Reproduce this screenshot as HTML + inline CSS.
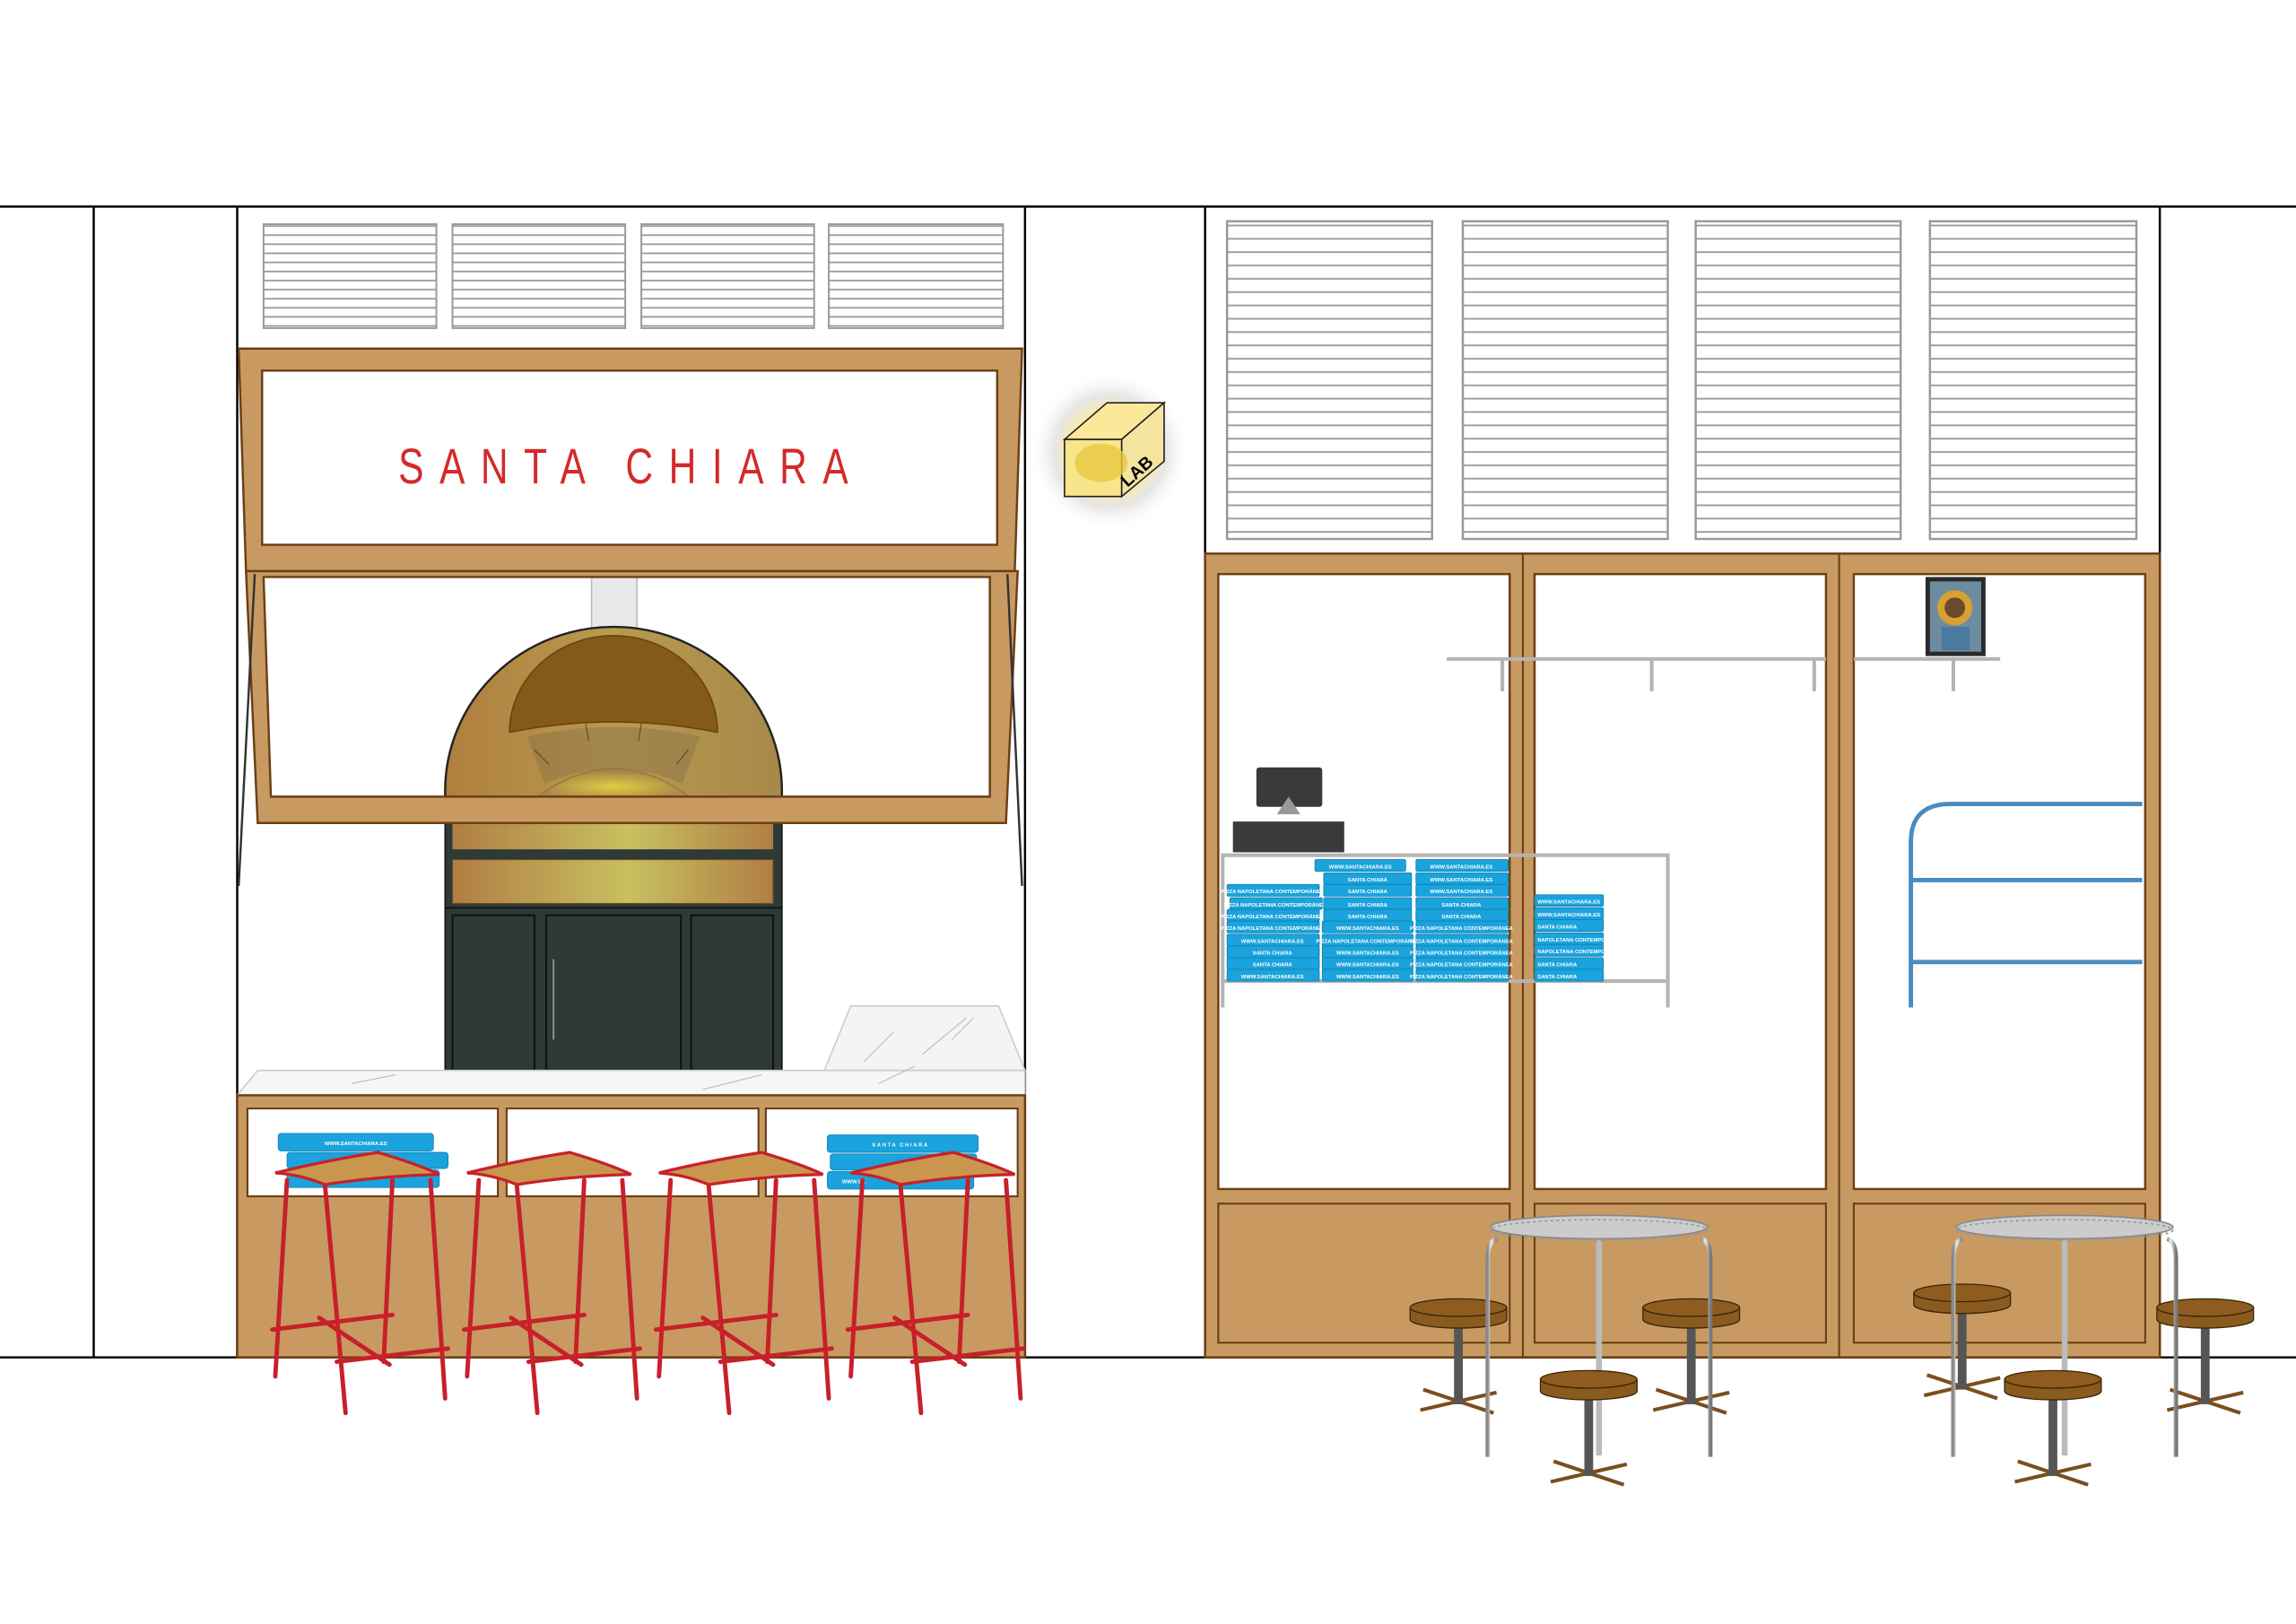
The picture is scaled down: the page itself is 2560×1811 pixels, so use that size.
<!DOCTYPE html>
<html><head><meta charset="utf-8"><style>
html,body{margin:0;padding:0;background:#fff}
svg{display:block}
.bx{fill:#1aa3dc;stroke:#0d7fb0;stroke-width:.5}
.bt{font-family:"Liberation Sans",sans-serif;font-size:3.6px;fill:#fff;font-weight:bold}
</style></head><body>
<svg width="2560" height="1811" viewBox="0 0 1568 1109" xmlns="http://www.w3.org/2000/svg">
<defs>
<pattern id="vent" width="10" height="6.2" patternUnits="userSpaceOnUse">
<rect width="10" height="6.2" fill="#fff"/><line x1="0" y1="5.5" x2="10" y2="5.5" stroke="#9a9a9a" stroke-width="1.1"/>
</pattern>
<pattern id="vent2" width="10" height="9.1" patternUnits="userSpaceOnUse">
<rect width="10" height="9.1" fill="#fff"/><line x1="0" y1="8.3" x2="10" y2="8.3" stroke="#9a9a9a" stroke-width="1.1"/>
</pattern>
<linearGradient id="oven" x1="0" x2="1"><stop offset="0" stop-color="#b07e3e"/><stop offset=".5" stop-color="#b89a4e"/><stop offset="1" stop-color="#a7884a"/></linearGradient>
<linearGradient id="gold" x1="0" x2="1"><stop offset="0" stop-color="#b07e44"/><stop offset=".55" stop-color="#c8c060"/><stop offset="1" stop-color="#b07e44"/></linearGradient>
<radialGradient id="glow"><stop offset="0" stop-color="#f5dc50"/><stop offset=".45" stop-color="#fbeca0"/><stop offset=".7" stop-color="#e6e6e6"/><stop offset="1" stop-color="#fff" stop-opacity="0"/></radialGradient>
<radialGradient id="fire" cx=".5" cy=".6"><stop offset="0" stop-color="#e0cc40"/><stop offset="1" stop-color="#a8864a"/></radialGradient>
<linearGradient id="steel" x1="0" x2="1"><stop offset="0" stop-color="#888"/><stop offset=".4" stop-color="#eee"/><stop offset="1" stop-color="#777"/></linearGradient>
<g id="rstool" stroke="#c8202a" stroke-width="3" fill="none" stroke-linecap="round">
<line x1="196" y1="806" x2="188" y2="940"/><line x1="222" y1="810" x2="236" y2="965"/>
<line x1="268" y1="806" x2="262" y2="930"/><line x1="294" y1="806" x2="304" y2="955"/>
<line x1="186" y1="908" x2="268" y2="898"/><line x1="218" y1="900" x2="266" y2="932"/><line x1="230" y1="930" x2="306" y2="921"/>
<path d="M188,801 Q225,792 258,787 Q285,795 300,802 Q260,803 222,809 Q205,802 188,801Z" fill="#c9964e" stroke="#c8202a" stroke-width="2"/>
</g>
<g id="bstool">
<line x1="-26" y1="70" x2="26" y2="58" stroke="#7a4e1e" stroke-width="2.5"/><line x1="-24" y1="56" x2="24" y2="72" stroke="#7a4e1e" stroke-width="2.5"/>
<rect x="-3" y="10" width="6" height="56" fill="#555"/>
<path d="M-33,0 v8 a33,6 0 0 0 66,0 v-8z" fill="#8a5a1e" stroke="#3a2408" stroke-width=".8"/>
<ellipse cx="0" cy="0" rx="33" ry="6" fill="#8e5c20" stroke="#3a2408" stroke-width=".8"/>
</g>
<g id="table">
<path d="M-70,8 q-6,2 -6,14 v135" stroke="url(#steel)" stroke-width="3" fill="none"/>
<path d="M70,8 q6,2 6,14 v135" stroke="url(#steel)" stroke-width="3" fill="none"/>
<rect x="-2" y="6" width="4" height="150" fill="#bbb"/>
<ellipse cx="0" cy="0" rx="74" ry="8" fill="#ccc" stroke="#888"/>
<ellipse cx="0" cy="2" rx="74" ry="7" fill="none" stroke="#999" stroke-dasharray="2 2"/>
</g>
</defs>

<g stroke="#000" stroke-width="1.5">
<line x1="0" y1="141" x2="1568" y2="141"/><line x1="0" y1="927" x2="1568" y2="927"/>
<line x1="64" y1="141" x2="64" y2="927"/><line x1="162" y1="141" x2="162" y2="927"/>
<line x1="700" y1="141" x2="700" y2="927"/><line x1="823" y1="141" x2="823" y2="927"/>
<line x1="1475" y1="141" x2="1475" y2="927"/>
</g>

<g stroke="#999" stroke-width="1.2" fill="url(#vent)">
<rect x="180" y="153" width="118" height="71"/><rect x="309" y="153" width="118" height="71"/>
<rect x="438" y="153" width="118" height="71"/><rect x="566" y="153" width="119" height="71"/>
</g>

<!-- chimney -->
<rect x="404" y="392" width="31" height="40" fill="#e8e8e8" stroke="#bbb"/>
<!-- oven -->
<path d="M304,560 V540 A115,112 0 0 1 534,540 V560 Z" fill="url(#oven)" stroke="#222" stroke-width="1.5"/>
<path d="M366,545 Q419,505 472,545Z" fill="url(#fire)" stroke="#9a7a40"/>
<path d="M360,503 Q419,490 478,503 L466,535 Q419,515 372,535Z" fill="#7a6448" opacity=".35"/>
<path d="M348,500 A71,66 0 0 1 490,500 Q419,486 348,500Z" fill="#845a18" stroke="#6b4412"/>
<g stroke="#5a4020" stroke-width=".6"><line x1="365" y1="512" x2="375" y2="522"/><line x1="470" y1="512" x2="462" y2="522"/><line x1="400" y1="494" x2="402" y2="506"/><line x1="438" y1="494" x2="436" y2="506"/></g>
<rect x="304" y="545" width="230" height="75" fill="#2d3a38" stroke="#111"/>
<rect x="309" y="562" width="219" height="18" fill="url(#gold)"/>
<rect x="309" y="587" width="219" height="30" fill="url(#gold)" stroke="#6b4a20" stroke-width=".7"/>
<rect x="304" y="620" width="230" height="112" fill="#2d3a38" stroke="#111"/>
<g fill="#2d3a38" stroke="#111" stroke-width="1.3">
<rect x="309" y="625" width="56" height="106"/><rect x="373" y="625" width="92" height="106"/><rect x="472" y="625" width="56" height="106"/>
</g>
<line x1="378" y1="655" x2="378" y2="710" stroke="#888" stroke-width="1.3"/>

<!-- sign frame -->
<polygon points="163,238 698,238 693,390 168,390" fill="#c89a62" stroke="#6b3f16" stroke-width="1.5"/>
<rect x="179" y="253" width="502" height="119" fill="#fff" stroke="#6b3f16" stroke-width="1.5"/>
<text x="272" y="330" textLength="318" lengthAdjust="spacingAndGlyphs" font-family="'Liberation Sans',sans-serif" font-size="34" fill="#d42a2a" letter-spacing="14">SANTA CHIARA</text>
<path d="M168,390 H695 L687,562 H176 Z M180,394 L676,394 L676,544 L185,544 Z" fill="#c89a62" fill-rule="evenodd" stroke="#6b3f16" stroke-width="1.5"/>
<g stroke="#333" stroke-width="1.5">
<line x1="174" y1="392" x2="163" y2="605"/><line x1="688" y1="392" x2="698" y2="605"/>
</g>

<!-- lamp -->
<circle cx="758" cy="308" r="55" fill="url(#glow)"/>
<polygon points="727,300 756,275 795,275 766,300" fill="#fbe89a" stroke="#222"/>
<polygon points="766,300 795,275 795,315 766,339" fill="#f4e4a0" stroke="#222"/>
<rect x="727" y="300" width="39" height="39" fill="#f8e48a" stroke="#222"/>
<ellipse cx="752" cy="316" rx="18" ry="13" fill="#e8c840" opacity=".8"/>
<text x="770" y="333" font-family="'Liberation Sans',sans-serif" font-weight="bold" font-size="12" transform="rotate(-42 770 333)">LAB</text>

<!-- counter -->
<polygon points="563,731 581,687 682,687 700,731" fill="#f4f4f4" stroke="#ccc"/>
<polygon points="162,748 176,731 700,731 700,748" fill="#f6f6f6" stroke="#ccc"/>
<g stroke="#bbb" stroke-width=".7" fill="none">
<path d="M240,740 l30,-6 M480,744 l40,-10 M600,740 l25,-12 M630,720 l30,-25 M650,710 l15,-15 M590,725 l20,-20"/>
</g>
<rect x="162" y="748" width="538" height="179" fill="#c89a62" stroke="#6b3f16" stroke-width="1.5"/>
<g fill="#fff" stroke="#6b3f16" stroke-width="1.3">
<rect x="169" y="757" width="171" height="60"/><rect x="346" y="757" width="172" height="60"/><rect x="523" y="757" width="172" height="60"/>
</g>
<rect class="bx" x="190" y="774" width="106" height="12" rx="2"/><text class="bt" x="243" y="782" text-anchor="middle">WWW.SANTACHIARA.ES</text>
<rect class="bx" x="196" y="787" width="110" height="11" rx="2"/>
<rect class="bx" x="196" y="799" width="104" height="12" rx="2"/>
<rect class="bx" x="565" y="775" width="103" height="12" rx="2"/><text class="bt" x="615" y="783" text-anchor="middle" letter-spacing="1">SANTA CHIARA</text>
<rect class="bx" x="567" y="788" width="100" height="11" rx="2"/>
<rect class="bx" x="565" y="800" width="100" height="12" rx="2"/><text class="bt" x="575" y="808">WWW.SA</text>

<use href="#rstool"/>
<use href="#rstool" transform="translate(131,0)"/>
<use href="#rstool" transform="translate(262,0)"/>
<use href="#rstool" transform="translate(393,0)"/>

<g stroke="#999" stroke-width="1.5" fill="url(#vent2)">
<rect x="838" y="151" width="140" height="217"/><rect x="999" y="151" width="140" height="217"/>
<rect x="1158" y="151" width="140" height="217"/><rect x="1318" y="151" width="141" height="217"/>
</g>

<rect x="823" y="378" width="652" height="549" fill="#c89a62" stroke="#6b3f16" stroke-width="1.5"/>
<g stroke="#6b3f16" stroke-width="1.3">
<line x1="1040" y1="378" x2="1040" y2="927"/><line x1="1256" y1="378" x2="1256" y2="927"/>
</g>
<g fill="#fff" stroke="#6b3f16" stroke-width="1.5">
<rect x="832" y="392" width="199" height="420"/><rect x="1048" y="392" width="199" height="420"/><rect x="1266" y="392" width="199" height="420"/>
</g>
<g fill="none" stroke="#6b3f16" stroke-width="1.3">
<rect x="832" y="822" width="199" height="95"/><rect x="1048" y="822" width="199" height="95"/><rect x="1266" y="822" width="199" height="95"/>
</g>
<g stroke="#b4b4b4" stroke-width="2.5" fill="none">
<line x1="988" y1="450" x2="1247" y2="450"/><line x1="1266" y1="450" x2="1366" y2="450"/>
<line x1="1026" y1="450" x2="1026" y2="472"/><line x1="1128" y1="450" x2="1128" y2="472"/>
<line x1="1239" y1="450" x2="1239" y2="472"/><line x1="1334" y1="450" x2="1334" y2="472"/>
<polyline points="835,688 835,584 1139,584 1139,688"/><line x1="835" y1="670" x2="1139" y2="670"/>
</g>
<rect x="1315" y="394" width="41" height="54" fill="#2a2a2a"/>
<rect x="1318" y="397" width="35" height="48" fill="#6e8ca0"/>
<circle cx="1335" cy="415" r="12" fill="#d8a030"/>
<circle cx="1335" cy="415" r="7" fill="#6a4a2a"/>
<rect x="1326" y="428" width="19" height="16" fill="#4a7aa0"/>
<rect x="858" y="524" width="45" height="27" rx="2" fill="#3a3a3a"/>
<polygon points="880,544 872,556 888,556" fill="#999"/>
<rect x="842" y="561" width="76" height="21" fill="#3a3a3a"/>
<g>
<rect class="bx" x="898" y="587" width="62" height="8" rx="1"/><text class="bt" x="929" y="593" text-anchor="middle">WWW.SANTACHIARA.ES</text>
<rect class="bx" x="967" y="587" width="63" height="8" rx="1"/><text class="bt" x="998" y="593" text-anchor="middle">WWW.SANTACHIARA.ES</text>
<rect class="bx" x="904" y="596" width="60" height="8" rx="1"/><text class="bt" x="934" y="602" text-anchor="middle">SANTA CHIARA</text>
<rect class="bx" x="967" y="596" width="63" height="8" rx="1"/><text class="bt" x="998" y="602" text-anchor="middle">WWW.SANTACHIARA.ES</text>
<rect class="bx" x="838" y="604" width="63" height="8" rx="1"/><text class="bt" x="869" y="610" text-anchor="middle">PIZZA NAPOLETANA CONTEMPORÁNEA</text>
<rect class="bx" x="904" y="604" width="60" height="8" rx="1"/><text class="bt" x="934" y="610" text-anchor="middle">SANTA CHIARA</text>
<rect class="bx" x="967" y="604" width="63" height="8" rx="1"/><text class="bt" x="998" y="610" text-anchor="middle">WWW.SANTACHIARA.ES</text>
<rect class="bx" x="840" y="613" width="63" height="8" rx="1"/><text class="bt" x="871" y="619" text-anchor="middle">PIZZA NAPOLETANA CONTEMPORÁNEA</text>
<rect class="bx" x="904" y="613" width="60" height="8" rx="1"/><text class="bt" x="934" y="619" text-anchor="middle">SANTA CHIARA</text>
<rect class="bx" x="967" y="613" width="63" height="8" rx="1"/><text class="bt" x="998" y="619" text-anchor="middle">SANTA CHIARA</text>
<rect class="bx" x="838" y="621" width="63" height="8" rx="1"/><text class="bt" x="869" y="627" text-anchor="middle">PIZZA NAPOLETANA CONTEMPORÁNEA</text>
<rect class="bx" x="904" y="621" width="60" height="8" rx="1"/><text class="bt" x="934" y="627" text-anchor="middle">SANTA CHIARA</text>
<rect class="bx" x="967" y="621" width="63" height="8" rx="1"/><text class="bt" x="998" y="627" text-anchor="middle">SANTA CHIARA</text>
<rect class="bx" x="838" y="629" width="63" height="8" rx="1"/><text class="bt" x="869" y="635" text-anchor="middle">PIZZA NAPOLETANA CONTEMPORÁNEA</text>
<rect class="bx" x="903" y="629" width="62" height="8" rx="1"/><text class="bt" x="934" y="635" text-anchor="middle">WWW.SANTACHIARA.ES</text>
<rect class="bx" x="967" y="629" width="63" height="8" rx="1"/><text class="bt" x="998" y="635" text-anchor="middle">PIZZA NAPOLETANA CONTEMPORÁNEA</text>
<rect class="bx" x="838" y="638" width="63" height="8" rx="1"/><text class="bt" x="869" y="644" text-anchor="middle">WWW.SANTACHIARA.ES</text>
<rect class="bx" x="903" y="638" width="62" height="8" rx="1"/><text class="bt" x="934" y="644" text-anchor="middle">PIZZA NAPOLETANA CONTEMPORÁNEA</text>
<rect class="bx" x="967" y="638" width="63" height="8" rx="1"/><text class="bt" x="998" y="644" text-anchor="middle">PIZZA NAPOLETANA CONTEMPORÁNEA</text>
<rect class="bx" x="838" y="646" width="63" height="8" rx="1"/><text class="bt" x="869" y="652" text-anchor="middle">SANTA CHIARA</text>
<rect class="bx" x="903" y="646" width="62" height="8" rx="1"/><text class="bt" x="934" y="652" text-anchor="middle">WWW.SANTACHIARA.ES</text>
<rect class="bx" x="967" y="646" width="63" height="8" rx="1"/><text class="bt" x="998" y="652" text-anchor="middle">PIZZA NAPOLETANA CONTEMPORÁNEA</text>
<rect class="bx" x="838" y="654" width="63" height="8" rx="1"/><text class="bt" x="869" y="660" text-anchor="middle">SANTA CHIARA</text>
<rect class="bx" x="903" y="654" width="62" height="8" rx="1"/><text class="bt" x="934" y="660" text-anchor="middle">WWW.SANTACHIARA.ES</text>
<rect class="bx" x="967" y="654" width="63" height="8" rx="1"/><text class="bt" x="998" y="660" text-anchor="middle">PIZZA NAPOLETANA CONTEMPORÁNEA</text>
<rect class="bx" x="838" y="662" width="63" height="8" rx="1"/><text class="bt" x="869" y="668" text-anchor="middle">WWW.SANTACHIARA.ES</text>
<rect class="bx" x="903" y="662" width="62" height="8" rx="1"/><text class="bt" x="934" y="668" text-anchor="middle">WWW.SANTACHIARA.ES</text>
<rect class="bx" x="967" y="662" width="63" height="8" rx="1"/><text class="bt" x="998" y="668" text-anchor="middle">PIZZA NAPOLETANA CONTEMPORÁNEA</text>
<rect class="bx" x="1048" y="611" width="47" height="8" rx="1"/><text class="bt" x="1050" y="617">WWW.SANTACHIARA.ES</text>
<rect class="bx" x="1048" y="620" width="47" height="8" rx="1"/><text class="bt" x="1050" y="626">WWW.SANTACHIARA.ES</text>
<rect class="bx" x="1048" y="628" width="47" height="8" rx="1"/><text class="bt" x="1050" y="634">SANTA CHIARA</text>
<rect class="bx" x="1048" y="637" width="47" height="8" rx="1"/><text class="bt" x="1050" y="643">NAPOLETANA CONTEMPORÁNEA</text>
<rect class="bx" x="1048" y="645" width="47" height="8" rx="1"/><text class="bt" x="1050" y="651">NAPOLETANA CONTEMPORÁNEA</text>
<rect class="bx" x="1048" y="654" width="47" height="8" rx="1"/><text class="bt" x="1050" y="660">SANTA CHIARA</text>
<rect class="bx" x="1048" y="662" width="47" height="8" rx="1"/><text class="bt" x="1050" y="668">SANTA CHIARA</text>
</g>
<g stroke="#4a8cc0" stroke-width="3" fill="none">
<path d="M1305,688 V575 Q1305,549 1332,549 H1463"/>
<line x1="1305" y1="601" x2="1463" y2="601"/><line x1="1305" y1="657" x2="1463" y2="657"/>
</g>

<use href="#bstool" transform="translate(996,893)"/>
<use href="#bstool" transform="translate(1155,893)"/>
<use href="#bstool" transform="translate(1340,883)"/>
<use href="#bstool" transform="translate(1506,893)"/>
<use href="#table" transform="translate(1092,838)"/>
<use href="#table" transform="translate(1410,838)"/>
<use href="#bstool" transform="translate(1085,942)"/>
<use href="#bstool" transform="translate(1402,942)"/>
</svg>
</body></html>
